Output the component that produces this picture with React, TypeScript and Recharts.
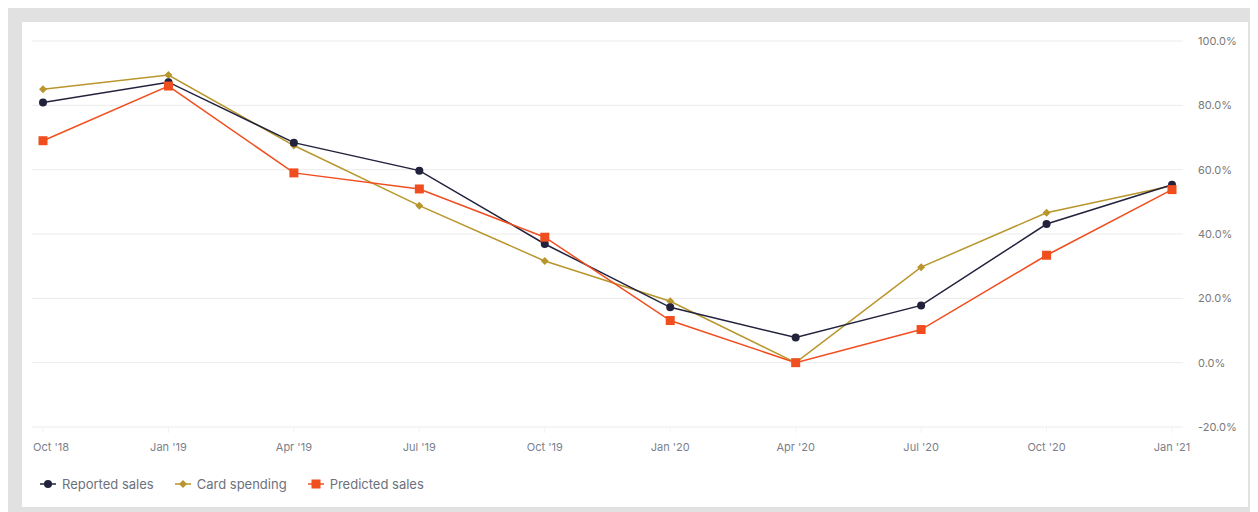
import React from 'react';
import { LineChart, Line, XAxis, YAxis, CartesianGrid, Legend } from 'recharts';

const quarters = ["Oct '18", "Jan '19", "Apr '19", "Jul '19", "Oct '19", "Jan '20", "Apr '20", "Jul '20", "Oct '20", "Jan '21"];
const reportedSales = [80.9, 87.2, 68.4, 59.7, 36.9, 17.2, 7.8, 17.8, 43.1, 55.3];
const cardSpending = [85.0, 89.4, 67.5, 48.8, 31.6, 19.1, 0.0, 29.7, 46.6, 55.0];
const predictedSales = [69.0, 86.0, 59.0, 54.0, 39.0, 13.1, 0.0, 10.3, 33.4, 53.8];
const yTicks = [-20, 0, 20, 40, 60, 80, 100];

const NAVY = '#22223d';
const GOLD = '#b8962c';
const ORANGE = '#f04e1f';
const FONT = 'Inter, "Noto Sans", sans-serif';

const data = quarters.map((q, i) => ({
  quarter: q,
  reported: reportedSales[i],
  card: cardSpending[i],
  predicted: predictedSales[i],
}));

const series = [
  { key: 'reported', name: 'Reported sales', color: NAVY, shape: 'circle' },
  { key: 'card', name: 'Card spending', color: GOLD, shape: 'diamond' },
  { key: 'predicted', name: 'Predicted sales', color: ORANGE, shape: 'square' },
];

const Marker = ({ cx, cy, shape, color }: any) => {
  if (cx == null || cy == null) return null;
  if (shape === 'circle') return <circle cx={cx} cy={cy} r={4} fill={color} />;
  if (shape === 'diamond')
    return <polygon points={`${cx},${cy - 4} ${cx + 4},${cy} ${cx},${cy + 4} ${cx - 4},${cy}`} fill={color} />;
  return <rect x={cx - 4.5} y={cy - 4.5} width={9} height={9} fill={color} />;
};

const makeDot = (shape: string, color: string) => (props: any) => (
  <Marker key={`${shape}-${props.index}`} cx={props.cx} cy={props.cy} shape={shape} color={color} />
);

const XTick = ({ x, y, payload, index }: any) => (
  <text
    x={index === 0 ? x - 10 : x}
    y={y}
    dy="0.71em"
    textAnchor={index === 0 ? 'start' : 'middle'}
    fill="#7b7f8b"
    fontSize={11}
    fontFamily={FONT}
  >
    {payload.value}
  </text>
);

const LegendContent = () => (
  <div style={{ display: 'flex', alignItems: 'center', paddingLeft: 8, fontFamily: FONT, fontSize: 13, color: '#6d717d' }}>
    {series.map((s) => (
      <div key={s.key} style={{ display: 'flex', alignItems: 'center', marginRight: 21 }}>
        <svg width={16} height={12} style={{ marginRight: 6 }}>
          <line x1={0} y1={6} x2={16} y2={6} stroke={s.color} strokeWidth={1.5} />
          <Marker cx={8} cy={6} shape={s.shape} color={s.color} />
        </svg>
        <span>{s.name}</span>
      </div>
    ))}
  </div>
);

const drawOrder = ['card', 'reported', 'predicted'];

export default function App() {
  return (
    <div style={{ width: 1250, height: 504, background: '#e1e1e1', paddingTop: 14, paddingLeft: 14, boxSizing: 'border-box' }}>
      <div style={{ width: 1226, height: 485, background: '#ffffff' }}>
        <LineChart width={1226} height={485} data={data} margin={{ top: 19, right: 0, left: 10, bottom: 1 }}>
          <CartesianGrid vertical={false} stroke="#ebebeb" />
          <XAxis
            dataKey="quarter"
            padding={{ left: 11, right: 11 }}
            axisLine={false}
            tickLine={{ stroke: '#f3f3f3' }}
            tickSize={6}
            tickMargin={10}
            height={49}
            interval={0}
            tick={<XTick />}
          />
          <YAxis
            orientation="right"
            domain={[-20, 100]}
            ticks={yTicks}
            width={65}
            axisLine={false}
            tickLine={false}
            tickSize={0}
            tickMargin={15}
            tick={{ fill: '#7a7a7a', fontSize: 11, fontFamily: FONT, textAnchor: 'start' }}
            tickFormatter={(v: number) => `${v.toFixed(1)}%`}
          />
          <Legend verticalAlign="bottom" align="left" height={30} content={<LegendContent />} />
          {drawOrder.map((k) => {
            const s = series.find((x) => x.key === k)!;
            return (
              <Line
                key={s.key}
                type="linear"
                dataKey={s.key}
                name={s.name}
                stroke={s.color}
                strokeWidth={1.5}
                dot={makeDot(s.shape, s.color)}
                activeDot={false}
                isAnimationActive={false}
              />
            );
          })}
        </LineChart>
      </div>
    </div>
  );
}
